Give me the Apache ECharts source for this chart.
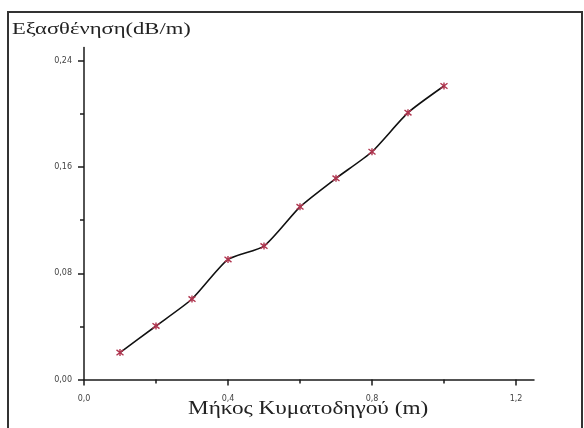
<!DOCTYPE html>
<html>
<head>
<meta charset="utf-8">
<script src="https://cdn.jsdelivr.net/npm/echarts@6/dist/echarts.min.js"></script>
<style>
  html, body { margin: 0; padding: 0; background: #fff; }
  #chart { width: 584px; height: 428px; }
</style>
</head>
<body>
<div id="chart"></div>
<script>
// Waveguide length (m) and measured attenuation (dB/m)
const lengths = [0.1, 0.2, 0.3, 0.4, 0.5, 0.6, 0.7, 0.8, 0.9, 1.0];
const attenuation = [0.0203, 0.0403, 0.0606, 0.0904, 0.1005, 0.130, 0.1515, 0.1715, 0.2009, 0.221];

// Axis ticks
const xMajorTicks = [0, 0.4, 0.8, 1.2];
const xMinorTicks = [0.2, 0.6, 1.0];
const yMajorTicks = [0, 0.08, 0.16, 0.24];
const yMinorTicks = [0.04, 0.12, 0.20];

const yTitle = 'Εξασθένηση(dB/m)';
const xTitle = 'Μήκος Κυματοδηγού (m)';

const chart = echarts.init(document.getElementById('chart'), null, { renderer: 'canvas' });

const axisColor = '#1a1a1a';
const labelStyle = { color: '#444', fontSize: 8, fontFamily: 'DejaVu Sans' };

function commaFmt(digits) {
  return v => Number(v).toFixed(digits).replace('.', ',');
}

const xBase = { type: 'value', min: 0, max: 1.25, splitLine: { show: false }, position: 'bottom' };
const yBase = { type: 'value', min: 0, max: 0.25, splitLine: { show: false }, position: 'left' };

chart.setOption({
  animation: false,
  backgroundColor: '#fff',
  grid: { left: 84, top: 47.5, width: 450, height: 332 },
  xAxis: [
    Object.assign({}, xBase, {
      axisLine: { show: true, lineStyle: { color: axisColor, width: 1.5 } },
      axisTick: { show: true, length: 6, lineStyle: { color: axisColor, width: 1.5 }, customValues: xMajorTicks },
      axisLabel: Object.assign({ show: true, margin: 15, customValues: xMajorTicks, formatter: commaFmt(1) }, labelStyle)
    }),
    Object.assign({}, xBase, {
      axisLine: { show: false },
      axisTick: { show: true, length: 4, lineStyle: { color: axisColor, width: 1.5 }, customValues: xMinorTicks },
      axisLabel: { show: false }
    })
  ],
  yAxis: [
    Object.assign({}, yBase, {
      axisLine: { show: true, lineStyle: { color: axisColor, width: 1.5 } },
      axisTick: { show: true, length: 6, lineStyle: { color: axisColor, width: 1.5 }, customValues: yMajorTicks },
      axisLabel: Object.assign({ show: true, margin: 12, customValues: yMajorTicks, formatter: commaFmt(2) }, labelStyle)
    }),
    Object.assign({}, yBase, {
      axisLine: { show: false },
      axisTick: { show: true, length: 4, lineStyle: { color: axisColor, width: 1.5 }, customValues: yMinorTicks },
      axisLabel: { show: false }
    })
  ],
  series: [{
    type: 'line',
    xAxisIndex: 0,
    yAxisIndex: 0,
    data: lengths.map((x, i) => [x, attenuation[i]]),
    smooth: 0.2,
    lineStyle: { color: '#111', width: 1.6 },
    symbol: 'path://M-1,-1L1,1M1,-1L-1,1M0,-1.3L0,1.3',
    symbolSize: 7,
    itemStyle: { color: 'rgba(0,0,0,0)', borderColor: '#b0344e', borderWidth: 1.4 },
    z: 3
  }],
  graphic: [
    {
      type: 'rect',
      shape: { x: 8, y: 12, width: 574, height: 440 },
      style: { fill: null, stroke: '#333', lineWidth: 2 },
      silent: true
    },
    {
      type: 'text',
      x: 12, y: 21,
      scaleX: 1.33,
      style: { text: yTitle, fill: '#222', font: '17px "Liberation Serif"' }
    },
    {
      type: 'text',
      x: 188, y: 400,
      scaleX: 1.29,
      style: { text: xTitle, fill: '#222', font: '18px "Liberation Serif"' }
    }
  ]
});
</script>
</body>
</html>
